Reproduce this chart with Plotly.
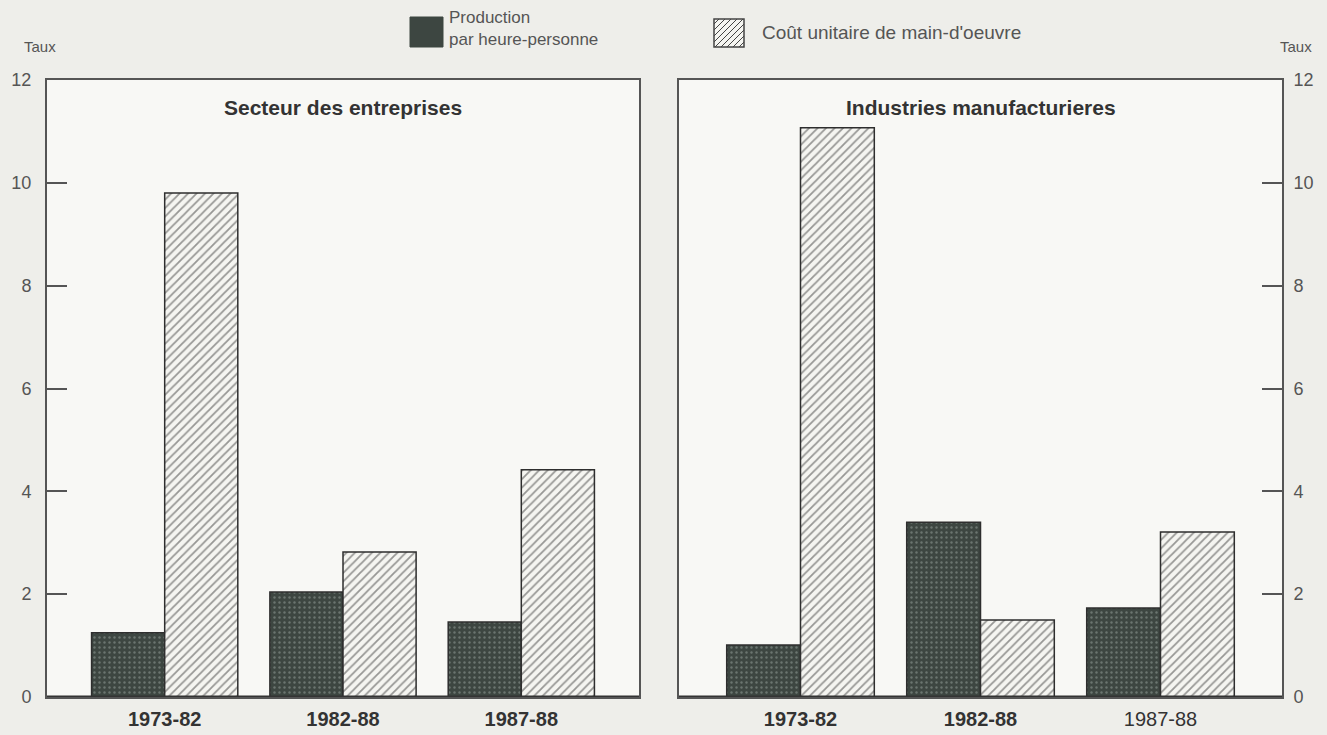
import plotly.graph_objects as go
from plotly.subplots import make_subplots

periodes = ['1973-82', '1982-88', '1987-88']

# Secteur des entreprises
prod_entreprises = [1.25, 2.04, 1.46]
cout_entreprises = [9.8, 2.82, 4.42]

# Industries manufacturieres
prod_manuf = [1.01, 3.40, 1.73]
cout_manuf = [11.07, 1.50, 3.21]

fig = make_subplots(rows=1, cols=2)

# screen pixels of the plotting frame
W, H = 1327, 735
L, T = 47, 80
R = W - 1282
B = H - 697
PW, PH = W - L - R, H - T - B


def px2x(px):
    return (px - L) / PW


def px2y(py):
    return (H - B - py) / PH


prod_style = dict(color='#3d4641',
                  line=dict(color='#2e2e2e', width=1.5),
                  pattern=dict(shape='.', bgcolor='#3d4641', fgcolor='#9aa39e',
                               size=5, solidity=0.18))
cout_style = dict(color='#f5f5f1',
                  line=dict(color='#2e2e2e', width=1.5),
                  pattern=dict(shape='/', bgcolor='#f5f5f1', fgcolor='#3a3a3a',
                               size=6, solidity=0.3))

fig.add_trace(go.Bar(x=periodes, y=prod_entreprises, name='Production par heure-personne',
                     marker=prod_style, showlegend=False), row=1, col=1)
fig.add_trace(go.Bar(x=periodes, y=cout_entreprises, name="Coût unitaire de main-d'oeuvre",
                     marker=cout_style, showlegend=False), row=1, col=1)
fig.add_trace(go.Bar(x=periodes, y=prod_manuf, name='Production par heure-personne',
                     marker=prod_style, showlegend=False), row=1, col=2)
fig.add_trace(go.Bar(x=periodes, y=cout_manuf, name="Coût unitaire de main-d'oeuvre",
                     marker=cout_style, showlegend=False), row=1, col=2)

font = 'Liberation Sans, Arial, sans-serif'
axcol = '#555555'

xcommon = dict(type='category', showgrid=False, zeroline=False, ticks='',
               showline=True, mirror=True, linecolor=axcol, linewidth=2, automargin=False,
               tickmode='array', tickvals=periodes, ticklabelstandoff=3,
               tickfont=dict(family=font, size=20, color='#333333'))
ycommon = dict(range=[0, 12], tickvals=[0, 2, 4, 6, 8, 10, 12], showgrid=False,
               zeroline=False, ticks='inside', ticklen=20, tickwidth=2, tickcolor=axcol,
               showline=True, mirror=True, linecolor=axcol, linewidth=2, automargin=False,
               tickfont=dict(family=font, size=18, color='#555555'))

fig.update_layout(
    width=W, height=H, autosize=False,
    margin=dict(l=L, r=R, t=T, b=B),
    barmode='group', bargap=0.18, bargroupgap=0,
    paper_bgcolor='#eeeeea', plot_bgcolor='#f8f8f5',
    font=dict(family=font, color='#444444'),
    showlegend=False,
    xaxis=dict(xcommon, domain=[0, px2x(639)], range=[-0.66, 2.66],
               ticktext=['<b>' + p + '</b>' for p in periodes]),
    xaxis2=dict(xcommon, domain=[px2x(679), 1], range=[-0.675, 2.675],
                ticktext=['<b>' + p + '</b>' for p in periodes[:2]] + [periodes[2]]),
    yaxis=dict(ycommon, ticklabelstandoff=10),
    yaxis2=dict(ycommon, side='right', anchor='x2', ticklabelstandoff=6),
)

# baseline heavier
fig.add_shape(type='line', xref='x', yref='y', x0=-0.66, x1=2.66, y0=0, y1=0,
              line=dict(color='#333333', width=3))
fig.add_shape(type='line', xref='x2', yref='y2', x0=-0.675, x1=2.675, y0=0, y1=0,
              line=dict(color='#333333', width=3))

# panel titles
fig.add_annotation(text='<b>Secteur des entreprises</b>', xref='x domain', yref='paper',
                   x=0.5, y=px2y(108), yanchor='middle', showarrow=False,
                   font=dict(family=font, size=21, color='#333333'))
fig.add_annotation(text='<b>Industries manufacturieres</b>', xref='x2 domain', yref='paper',
                   x=0.5, y=px2y(108), yanchor='middle', showarrow=False,
                   font=dict(family=font, size=21, color='#333333'))

# axis titles
fig.add_annotation(text='Taux', xref='paper', yref='paper', x=px2x(40), y=px2y(46),
                   xanchor='center', yanchor='middle', showarrow=False,
                   font=dict(family=font, size=15, color='#555555'))
fig.add_annotation(text='Taux', xref='paper', yref='paper', x=px2x(1296), y=px2y(46),
                   xanchor='center', yanchor='middle', showarrow=False,
                   font=dict(family=font, size=15, color='#555555'))

# legend drawn by hand
fig.add_shape(type='rect', xref='paper', yref='paper',
              x0=px2x(410), x1=px2x(443), y0=px2y(47), y1=px2y(17),
              fillcolor='#3d4641', line=dict(color='#3d4641', width=1))
fig.add_annotation(text='Production<br>par heure-personne', xref='paper', yref='paper',
                   x=px2x(447), y=px2y(29), xanchor='left', yanchor='middle', align='left',
                   showarrow=False, font=dict(family=font, size=17, color='#555555'))

hx0, hx1, hy0, hy1 = 714, 744, 19, 47
fig.add_shape(type='rect', xref='paper', yref='paper',
              x0=px2x(hx0), x1=px2x(hx1), y0=px2y(hy1), y1=px2y(hy0),
              fillcolor='#f5f5f1', line=dict(color='#444444', width=1.5))
w, h = hx1 - hx0, hy1 - hy0
for c in range(-h + 5, w, 6):
    u0, v0 = max(c, 0), max(-c, 0)
    u1, v1 = min(w, h + c), min(h, w - c)
    fig.add_shape(type='line', xref='paper', yref='paper',
                  x0=px2x(hx0 + u0), y0=px2y(hy1 - v0), x1=px2x(hx0 + u1), y1=px2y(hy1 - v1),
                  line=dict(color='#444444', width=1))
fig.add_annotation(text="Coût unitaire de main-d'oeuvre", xref='paper', yref='paper',
                   x=px2x(760), y=px2y(32), xanchor='left', yanchor='middle', showarrow=False,
                   font=dict(family=font, size=19, color='#555555'))

fig.write_html('out.html',
               config={'displayModeBar': False, 'responsive': False},
               post_script="document.body.style.margin='0';"
                           "document.body.style.background='#eeeeea';")
